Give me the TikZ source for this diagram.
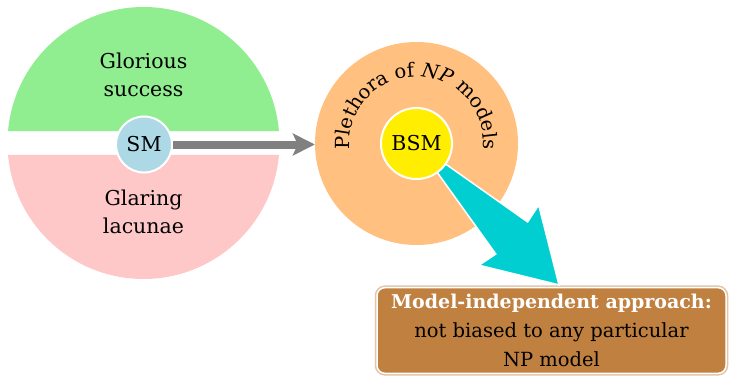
\documentclass[tikz,border=0pt]{standalone}
\usepackage{fontspec}
\setmainfont{DejaVu Serif}
\usepackage{xcolor}
\usepackage{tikz}
\usetikzlibrary{arrows.meta,positioning,calc,decorations.text}
\definecolor{successgreen}{HTML}{90EE90}
\definecolor{lacunapink}{HTML}{FFC8C8}
\definecolor{smblue}{HTML}{ADD8E6}
\definecolor{nporange}{HTML}{FFC080}
\definecolor{bsmyellow}{HTML}{FFEE00}
\definecolor{pointercyan}{HTML}{00CED1}
\definecolor{approachbrown}{HTML}{C08040}
\definecolor{approachedge}{HTML}{E2C4A6}
\tikzset{
  modelcircle/.style={circle,draw=white,line width=2pt,inner sep=0pt,minimum size=#1},
  blobtext/.style={align=center,font=\fontsize{20.5}{28}\selectfont},
  flowarrow/.style={-{Stealth[length=22pt,width=22pt,inset=5pt]},line width=8pt,draw=black!50},
  fatpointer/.style={fill=pointercyan,draw=white,line width=1.5pt},
  approachbox/.style={rounded corners=8pt,fill=approachbrown,draw=white,line width=1.5pt,
    preaction={draw=approachedge,line width=4.5pt},minimum width=349pt,minimum height=85pt,
    align=center,font=\fontsize{19.5}{29}\selectfont}
}

\begin{document}
\fontsize{19.5}{24}\selectfont
\begin{tikzpicture}[x=1pt,y=1pt]
  \useasboundingbox (0,0) rectangle (729,376);
  % SM: one disc split in two
  \coordinate (smworld) at (143.5,233);
  \fill[successgreen] ($(smworld)+(5.06:136)$) arc[start angle=5.06,end angle=174.94,radius=136] -- cycle;
  \fill[lacunapink] ($(smworld)+(-5.06:136)$) arc[start angle=-5.06,end angle=-174.94,radius=136] -- cycle;
  \node[blobtext] (glory) at (143.5,301) {Glorious\\success};
  \node[blobtext] (lacunae) at (143.5,164.5) {Glaring\\lacunae};
  \node[modelcircle=56pt,fill=smblue,blobtext] (sm) at (144,231.5) {SM};
  % NP models
  \node[circle,fill=nporange,minimum size=203pt] (plethora) at (416.5,232.5) {};
  \path[decorate,decoration={text along path,text align=center,
      text={Plethora of |\itshape|NP|\upshape| models}}]
    (plethora.center) ++(195:67) arc[start angle=195,end angle=-15,radius=67];
  \draw[flowarrow] (sm.east) -- (sm.east -| plethora.west);
  \node[approachbox] (approach) at (551.5,45.5)
    {\textcolor{white}{\fontsize{19}{29}\selectfont\bfseries Model-independent approach:}\\not biased to any particular\\NP model};
  \coordinate (aim) at ($(approach.north)+(7.5,2)$);
  \filldraw[fatpointer] (plethora.center)
    -- ($(plethora.center)!0.668!(aim)!22.6pt!90:(aim)$)
    -- ($(plethora.center)!0.648!(aim)!42.4pt!90:(aim)$)
    -- (aim)
    -- ($(plethora.center)!0.648!(aim)!42.4pt!-90:(aim)$)
    -- ($(plethora.center)!0.668!(aim)!22.6pt!-90:(aim)$)
    -- cycle;
  \node[modelcircle=71pt,fill=bsmyellow,blobtext] (bsm) at (plethora.center) {BSM};
\end{tikzpicture}
\end{document}
